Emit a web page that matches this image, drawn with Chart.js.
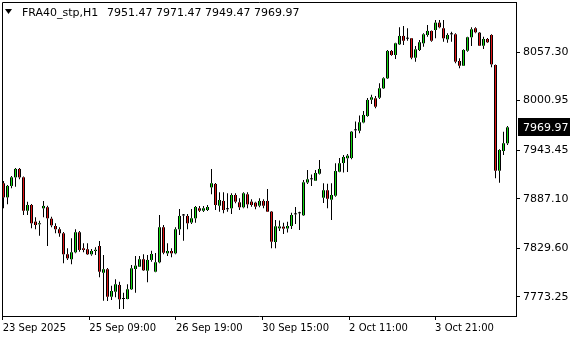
<!DOCTYPE html>
<html lang="en">
<head>
<meta charset="UTF-8">
<title>FRA40_stp,H1</title>
<script src="https://cdn.jsdelivr.net/npm/chart.js"></script>
<style>
  html, body { margin: 0; padding: 0; background: #fff; }
  #wrap { width: 580px; height: 340px; }
</style>
</head>
<body>
<div id="wrap"><canvas id="chart" width="580" height="340"></canvas></div>
<script>
// hourly bars, oldest first
const opens = [
  7905.1, 7888.8, 7902.0, 7912.0, 7921.7, 7912.0, 7873.3, 7879.9, 7860.6, 7857.6,
  7876.1, 7877.3, 7864.0, 7855.6, 7851.8, 7847.1, 7822.8, 7817.0, 7825.1, 7848.3,
  7829.7, 7828.6, 7822.8, 7826.6, 7832.4, 7801.4, 7805.4, 7773.6, 7779.4, 7787.2,
  7770.9, 7770.9, 7782.2, 7805.7, 7808.4, 7817.0, 7803.8, 7816.2, 7802.6, 7813.5,
  7854.1, 7823.9, 7826.6, 7823.9, 7851.8, 7867.8, 7867.2, 7859.6, 7864.5, 7876.1,
  7873.3, 7874.1, 7900.4, 7904.3, 7879.1, 7884.6, 7875.0, 7876.1, 7891.5, 7883.0,
  7877.3, 7892.3, 7883.8, 7882.6, 7879.1, 7884.6, 7884.6, 7872.2, 7837.0, 7852.9,
  7854.8, 7852.7, 7855.6, 7869.1, 7870.3, 7868.0, 7906.0, 7909.7, 7908.1, 7916.2,
  7888.4, 7897.0, 7886.1, 7890.7, 7918.5, 7928.6, 7934.1, 7934.4, 7966.5, 7966.0,
  7975.6, 7983.1, 8002.0, 8003.6, 8004.3, 8015.2, 8026.8, 8058.5, 8053.8, 8066.2,
  8075.9, 8072.7, 8073.2, 8050.7, 8059.6, 8067.4, 8077.0, 8081.7, 8082.8, 8091.3,
  8084.8, 8072.0, 8077.8, 8077.8, 8046.9, 8041.4, 8058.8, 8074.4, 8084.8, 8079.7,
  8064.6, 8072.4, 8077.0, 8042.2, 7919.7, 7942.5, 7951.47
];
const highs = [
  7907.7, 7903.1, 7913.5, 7922.8, 7922.8, 7913.0, 7883.8, 7881.1, 7865.7, 7861.7,
  7884.6, 7879.1, 7866.4, 7858.7, 7854.1, 7848.6, 7829.7, 7841.3, 7851.8, 7849.8,
  7835.5, 7835.5, 7828.9, 7830.9, 7838.2, 7822.0, 7806.9, 7786.4, 7793.8, 7791.0,
  7778.2, 7788.0, 7810.4, 7820.8, 7820.8, 7822.8, 7822.0, 7826.9, 7824.3, 7868.3,
  7856.7, 7835.5, 7829.7, 7854.1, 7875.3, 7869.5, 7869.5, 7875.3, 7878.8, 7878.8,
  7878.8, 7879.9, 7921.7, 7905.4, 7894.6, 7894.6, 7893.5, 7893.5, 7893.5, 7887.7,
  7894.6, 7894.6, 7886.5, 7883.8, 7887.7, 7886.5, 7898.5, 7873.0, 7862.5, 7862.0,
  7859.4, 7860.6, 7871.0, 7877.6, 7872.2, 7908.9, 7920.5, 7915.3, 7920.5, 7932.1,
  7905.1, 7904.6, 7905.1, 7928.3, 7934.4, 7937.9, 7939.1, 7965.7, 7976.7, 7983.7,
  7988.9, 8004.0, 8007.8, 8006.3, 8021.0, 8028.0, 8059.6, 8059.6, 8068.1, 8086.0,
  8087.5, 8084.8, 8073.5, 8064.3, 8071.2, 8079.0, 8088.6, 8082.2, 8094.4, 8094.4,
  8094.4, 8079.0, 8080.9, 8079.0, 8050.0, 8060.4, 8075.1, 8086.0, 8086.0, 8080.5,
  8075.1, 8073.5, 8077.8, 8042.8, 7944.5, 7964.9, 7971.47
];
const lows = [
  7876.1, 7880.7, 7899.3, 7901.1, 7909.7, 7868.3, 7868.3, 7852.9, 7851.8, 7844.3,
  7865.7, 7832.4, 7854.1, 7847.1, 7843.2, 7812.3, 7816.2, 7811.2, 7823.9, 7825.8,
  7825.1, 7822.0, 7821.1, 7822.0, 7796.1, 7769.0, 7768.6, 7769.8, 7772.9, 7759.3,
  7759.3, 7770.6, 7781.4, 7778.2, 7808.0, 7803.4, 7790.3, 7814.2, 7801.9, 7812.3,
  7822.8, 7820.8, 7819.3, 7822.8, 7845.1, 7838.5, 7851.8, 7857.9, 7859.4, 7871.8,
  7871.8, 7873.0, 7892.3, 7874.1, 7872.2, 7870.3, 7872.2, 7869.5, 7881.9, 7874.1,
  7876.1, 7876.1, 7878.0, 7874.9, 7877.3, 7876.1, 7871.8, 7829.7, 7829.7, 7849.8,
  7846.3, 7848.0, 7852.1, 7857.9, 7850.9, 7867.2, 7904.3, 7902.0, 7908.1, 7915.3,
  7882.2, 7876.1, 7862.5, 7889.6, 7917.8, 7917.6, 7918.2, 7932.9, 7957.6, 7963.1,
  7974.7, 7982.3, 7997.0, 7992.0, 8002.8, 8014.4, 8026.0, 8053.0, 8049.2, 8065.4,
  8065.4, 8070.4, 8048.9, 8046.1, 8058.5, 8063.5, 8075.1, 8069.3, 8073.2, 8084.8,
  8069.3, 8068.1, 8069.3, 8044.2, 8038.4, 8041.1, 8057.7, 8064.3, 8079.0, 8064.3,
  8060.8, 8067.7, 8039.6, 7910.9, 7905.8, 7937.9, 7949.47
];
const closes = [
  7888.8, 7902.0, 7912.0, 7921.7, 7912.0, 7873.3, 7879.9, 7858.7, 7856.7, 7858.7,
  7878.8, 7864.5, 7856.4, 7851.8, 7847.1, 7822.8, 7818.1, 7825.1, 7848.3, 7827.8,
  7827.8, 7822.8, 7826.6, 7828.0, 7802.6, 7805.4, 7773.6, 7780.2, 7788.0, 7770.6,
  7770.9, 7782.2, 7806.5, 7809.6, 7817.0, 7804.2, 7816.2, 7823.1, 7813.5, 7854.1,
  7824.6, 7826.6, 7823.9, 7851.8, 7867.2, 7867.8, 7858.7, 7864.5, 7877.6, 7873.3,
  7876.1, 7877.6, 7905.1, 7879.9, 7885.7, 7874.1, 7875.0, 7891.5, 7883.8, 7877.3,
  7893.5, 7880.7, 7879.9, 7878.0, 7884.6, 7879.1, 7872.2, 7837.4, 7855.2, 7855.0,
  7852.5, 7855.6, 7868.3, 7869.1, 7870.3, 7906.2, 7909.7, 7909.7, 7917.0, 7921.7,
  7897.0, 7887.2, 7891.5, 7919.3, 7928.3, 7935.6, 7937.1, 7964.9, 7966.5, 7975.8,
  7984.3, 8001.7, 8004.8, 7993.9, 8015.2, 8026.8, 8058.5, 8053.8, 8067.4, 8075.9,
  8070.4, 8072.7, 8050.7, 8060.4, 8068.6, 8077.8, 8081.7, 8070.4, 8091.3, 8086.0,
  8073.2, 8077.0, 8077.8, 8046.1, 8041.4, 8059.6, 8074.4, 8083.6, 8080.2, 8064.6,
  8072.4, 8068.6, 8043.0, 7919.7, 7943.7, 7951.5, 7969.97
];

const priceTicks = [8057.30, 8000.95, 7943.45, 7887.10, 7829.60, 7773.25];
const timeTickBars = [-0.2, 21.45, 43.1, 64.7, 86.4, 107.9];
const timeTickLabels = ['23 Sep 2025', '25 Sep 09:00', '26 Sep 19:00', '30 Sep 15:00', '2 Oct 11:00', '3 Oct 21:00'];

const symbolName = 'FRA40_stp,H1';

const UP = '#12d812';
const DOWN = '#e01414';

const bodyColors = opens.map((o, i) => closes[i] >= o ? UP : DOWN);

// frame, header line and the last-price box
const mtOverlay = {
    id: 'mtOverlay',
    afterDraw(chart) {
        const { ctx, chartArea } = chart;
        const yScale = chart.scales.y;
        const last = closes.length - 1;
        ctx.save();
        ctx.strokeStyle = '#000';
        ctx.lineWidth = 1;
        ctx.beginPath();
        ctx.moveTo(chartArea.left + 0.5, chartArea.bottom);
        ctx.lineTo(chartArea.left + 0.5, chartArea.top + 0.5);
        ctx.lineTo(chartArea.right, chartArea.top + 0.5);
        ctx.stroke();

        // header
        ctx.fillStyle = '#000';
        ctx.beginPath();
        ctx.moveTo(5, 9);
        ctx.lineTo(12, 9);
        ctx.lineTo(8.5, 14);
        ctx.closePath();
        ctx.fill();
        ctx.font = '11px "DejaVu Sans"';
        ctx.textBaseline = 'alphabetic';
        ctx.textAlign = 'left';
        ctx.fillText(symbolName, 22, 15.5);
        const ohlc = [opens[last], highs[last], lows[last], closes[last]].map(v => v.toFixed(2)).join(' ');
        ctx.fillText(ohlc, 107, 15.5);

        // current price label
        const py = yScale.getPixelForValue(closes[last]);
        ctx.fillStyle = '#000';
        ctx.fillRect(chartArea.right + 2, Math.round(py) - 9, 52, 18);
        ctx.fillStyle = '#fff';
        ctx.textBaseline = 'middle';
        ctx.fillText(closes[last].toFixed(2), chartArea.right + 7, py + 0.5);
        ctx.restore();
    }
};

const barBase = { borderWidth: 0, inflateAmount: 0, grouped: false };
const bodyData = opens.map((o, i) => ({ x: i, y: [o, closes[i]] }));

// first dataset is drawn on top: coloured core, then the black body, then wicks
new Chart(document.getElementById('chart'), {
    type: 'bar',
    data: {
        datasets: [
            Object.assign({ label: 'core', data: bodyData, backgroundColor: bodyColors, barThickness: 1, minBarLength: 0 }, barBase),
            Object.assign({ label: 'body', data: bodyData, backgroundColor: '#000', barThickness: 3, minBarLength: 1 }, barBase),
            Object.assign({
                label: 'upper wick',
                data: highs.map((h, i) => ({ x: i, y: [Math.max(opens[i], closes[i]), h] })),
                backgroundColor: '#000', barThickness: 1, minBarLength: 0
            }, barBase),
            Object.assign({
                label: 'lower wick',
                data: lows.map((l, i) => ({ x: i, y: [l, Math.min(opens[i], closes[i])] })),
                backgroundColor: '#000', barThickness: 1, minBarLength: 0
            }, barBase)
        ]
    },
    options: {
        responsive: false,
        devicePixelRatio: 1,
        animation: false,
        layout: { padding: { left: 2, top: 2, right: 0, bottom: 0 } },
        plugins: {
            legend: { display: false },
            tooltip: { enabled: false }
        },
        scales: {
            x: {
                type: 'linear',
                min: -0.375,
                max: 128.125,
                offset: false,
                grid: { display: true, offset: false, drawOnChartArea: false, tickLength: 4, color: '#000' },
                border: { display: true, color: '#000' },
                ticks: {
                    autoSkip: false,
                    maxRotation: 0,
                    align: 'start',
                    padding: 2,
                    color: '#000',
                    font: { family: 'DejaVu Sans', size: 10 },
                    callback: (v, idx) => timeTickLabels[idx]
                },
                afterBuildTicks: (axis) => {
                    axis.ticks = timeTickBars.map(v => ({ value: v }));
                },
                afterFit: (axis) => {
                    axis.height = 24;
                    axis.paddingLeft = 0;
                    axis.paddingRight = 0;
                }
            },
            y: {
                position: 'right',
                min: 7751.22,
                max: 8115.27,
                grid: { display: true, drawOnChartArea: false, tickLength: 4, color: '#000' },
                border: { display: true, color: '#000' },
                ticks: {
                    autoSkip: false,
                    padding: 3,
                    color: '#000',
                    font: { family: 'DejaVu Sans', size: 11 },
                    callback: (v) => Number(v).toFixed(2)
                },
                afterBuildTicks: (axis) => {
                    axis.ticks = priceTicks.map(v => ({ value: v }));
                },
                afterFit: (axis) => {
                    axis.width = 64;
                    axis.paddingTop = 0;
                    axis.paddingBottom = 0;
                }
            }
        }
    },
    plugins: [mtOverlay]
});
</script>
</body>
</html>
